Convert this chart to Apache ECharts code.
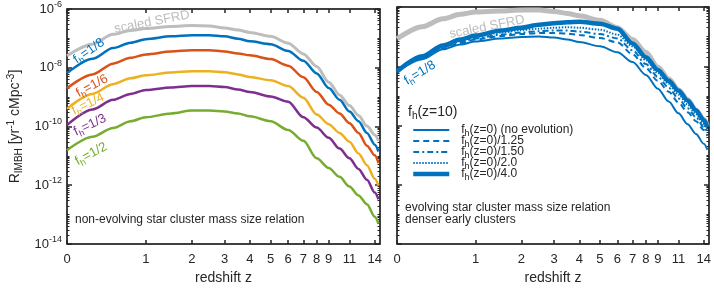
<!DOCTYPE html>
<html><head><meta charset="utf-8">
<script src="https://cdn.jsdelivr.net/npm/echarts@6/dist/echarts.min.js"></script>
<style>html,body{margin:0;padding:0;background:#fff}#c{width:714px;height:290px}</style>
</head><body><div id="c"></div>
<script>
// ---------- data ----------
const redshift = [0,0.25,0.5,0.75,1,1.5,2,2.5,3,3.5,4,5,6,7,8,9,10,11,12,13,14,14.5];
const xTickZ = [0,1,2,3,4,5,6,7,8,9,11,14];
const yTickExp = [-14,-12,-10,-8,-6];

// left panel: non-evolving
const sfrdLeft = [2.54e-8,6.37e-8,1.37e-7,1.86e-7,2.17e-7,2.52e-7,2.72e-7,2.66e-7,2.25e-7,1.93e-7,1.60e-7,1.17e-7,6.87e-8,2.96e-8,1.10e-8,3.22e-9,1.19e-9,5.14e-10,2.39e-10,1.03e-10,5.18e-11,3.27e-11];
const fh8 = [6.56e-9,2.02e-8,4.69e-8,7.14e-8,9.33e-8,1.17e-7,1.27e-7,1.27e-7,1.17e-7,9.71e-8,8.02e-8,6.37e-8,3.72e-8,1.73e-8,6.41e-9,2.04e-9,8.13e-10,3.25e-10,1.51e-10,6.04e-11,2.41e-11,1.41e-11];
const fh6 = [1.99e-9,5.94e-9,1.38e-8,2.18e-8,2.85e-8,3.59e-8,3.94e-8,3.94e-8,3.59e-8,3.08e-8,2.64e-8,1.98e-8,1.18e-8,4.72e-9,1.50e-9,5.55e-10,2.79e-10,1.30e-10,6.04e-11,2.23e-11,1.04e-11,5.64e-12];
const fh4 = [3.99e-10,1.29e-9,2.77e-9,4.38e-9,5.51e-9,6.93e-9,7.66e-9,7.66e-9,7.08e-9,5.94e-9,4.83e-9,3.76e-9,2.37e-9,9.48e-10,2.58e-10,1.20e-10,6.04e-11,3.03e-11,1.21e-11,4.83e-12,1.66e-12,9.70e-13];
const fh3 = [1.11e-10,3.79e-10,8.13e-10,1.29e-9,1.75e-9,2.12e-9,2.38e-9,2.38e-9,2.20e-9,1.82e-9,1.50e-9,1.05e-9,6.98e-10,2.05e-10,9.18e-11,4.12e-11,1.77e-11,8.26e-12,3.56e-12,1.53e-12,5.68e-13,3.32e-13];
const fh2 = [1.56e-11,4.45e-11,8.85e-11,1.51e-10,2.05e-10,2.79e-10,3.51e-10,3.51e-10,3.25e-10,2.79e-10,2.22e-10,1.51e-10,7.59e-11,3.27e-11,8.26e-12,3.85e-12,1.93e-12,8.98e-13,4.51e-13,2.26e-13,8.39e-14,4.91e-14];

// right panel: evolving
const sfrdRight = [8.45e-8,2.17e-7,3.99e-7,5.64e-7,6.82e-7,7.36e-7,7.95e-7,7.95e-7,7.08e-7,6.08e-7,5.02e-7,3.56e-7,2.00e-7,8.02e-8,2.96e-8,9.40e-9,3.76e-9,1.62e-9,7.53e-10,3.25e-10,1.63e-10,9.55e-11];
const noEvolution = [6.56e-9,1.73e-8,3.72e-8,5.47e-8,6.87e-8,8.65e-8,9.71e-8,1.01e-7,9.33e-8,8.02e-8,6.62e-8,4.69e-8,2.96e-8,1.38e-8,5.11e-9,1.75e-9,6.47e-10,2.58e-10,1.11e-10,5.18e-11,2.41e-11,1.52e-11];
const div125 = [6.56e-9,1.80e-8,4.02e-8,6.12e-8,8.02e-8,1.05e-7,1.22e-7,1.32e-7,1.32e-7,1.27e-7,1.13e-7,8.98e-8,6.37e-8,2.54e-8,8.71e-9,3.22e-9,1.39e-9,5.98e-10,2.79e-10,1.40e-10,7.03e-11,4.45e-11];
const div150 = [6.56e-9,1.87e-8,4.35e-8,6.62e-8,8.65e-8,1.17e-7,1.37e-7,1.53e-7,1.60e-7,1.60e-7,1.48e-7,1.22e-7,8.65e-8,3.45e-8,1.18e-8,4.38e-9,1.89e-9,8.13e-10,3.79e-10,1.90e-10,8.85e-11,5.60e-11];
const div20 = [6.56e-9,2.02e-8,4.69e-8,7.41e-8,9.71e-8,1.37e-7,1.66e-7,1.86e-7,2.00e-7,2.08e-7,2.00e-7,1.72e-7,1.17e-7,4.69e-8,1.61e-8,5.94e-9,2.56e-9,1.10e-9,5.14e-10,2.39e-10,1.11e-10,7.03e-11];
const div40 = [6.56e-9,2.18e-8,5.06e-8,8.02e-8,1.09e-7,1.60e-7,2.00e-7,2.52e-7,2.83e-7,3.05e-7,3.18e-7,2.72e-7,1.86e-7,5.90e-8,2.02e-8,7.48e-9,3.22e-9,1.50e-9,6.98e-10,3.25e-10,1.51e-10,8.85e-11];

// ---------- chart ----------
const FONT = '"Liberation Sans", Arial, Helvetica, sans-serif';
const INK = '#262626';
const BLUE = '#0072BD', ORANGE = '#D95319', YELLOW = '#EDB120', PURPLE = '#7E2F8E', GREEN = '#77AC30', GREY = '#BDBDBD';
const xOf = z => Math.log10(1 + z);           // axis coordinate: log10(1+z)
const X_MAX = 1.196;
const xTicks = xTickZ.map(xOf);
const minorY = [];
for (let n = -14; n < -6; n++) for (let k = 1; k <= 9; k++) {
  if (k === 1 && n % 2 === 0) continue;
  minorY.push(n + Math.log10(k));
}
const pts = arr => redshift.map((z, i) => [xOf(z), arr[i]]);

const grids = [
  {left: 67, top: 7, width: 313, height: 241, show: true, borderColor: INK, borderWidth: 1},
  {left: 397, top: 7, width: 313, height: 241, show: true, borderColor: INK, borderWidth: 1}
];
const axLine = {show: true, lineStyle: {color: INK, width: 1.5}};
const xAxes = [], yAxes = [];
[0, 1].forEach(g => {
  xAxes.push({
    gridIndex: g, type: 'value', min: 0, max: X_MAX, position: 'bottom',
    axisLine: axLine,
    axisTick: {inside: true, length: 4, customValues: xTicks, lineStyle: {color: INK, width: 1.5}},
    axisLabel: {customValues: xTicks, formatter: v => String(Math.round(Math.pow(10, v) - 1)),
      color: INK, fontSize: 13, fontFamily: FONT, margin: 9},
    splitLine: {show: false},
    name: 'redshift z', nameLocation: 'middle', nameGap: 27,
    nameTextStyle: {fontSize: 14, color: INK, fontFamily: FONT}
  });
  xAxes.push({
    gridIndex: g, type: 'value', min: 0, max: X_MAX, position: 'top',
    axisLine: axLine,
    axisTick: {inside: true, length: 4, customValues: xTicks, lineStyle: {color: INK, width: 1.5}},
    axisLabel: {show: false}, splitLine: {show: false}
  });
  ['left', 'right'].forEach(side => {
    yAxes.push({
      gridIndex: g, type: 'log', logBase: 10, min: 1e-14, max: 1e-6, interval: 2, position: side,
      axisLine: axLine,
      axisTick: {inside: true, length: 5, lineStyle: {color: INK, width: 1.5}},
      axisLabel: {
        show: g === 0 && side === 'left',
        formatter: v => '10{sup|' + Math.round(Math.log10(v)) + '}',
        color: INK, fontSize: 13, fontFamily: FONT, margin: 5,
        rich: {sup: {fontSize: 9, color: INK, fontFamily: FONT, padding: [0, 0, 9, 0]}}
      },
      splitLine: {show: false},
      minorTick: {show: false},
      name: (g === 0 && side === 'left') ? 'R{sub|IMBH} [yr{sup|-1} cMpc{sup|-3}]' : '',
      nameLocation: 'middle', nameRotate: 90, nameGap: 42,
      nameTextStyle: {fontSize: 14, color: INK, fontFamily: FONT,
        rich: {sub: {fontSize: 10, color: INK, fontFamily: FONT, padding: [8, 0, 0, 0]},
               sup: {fontSize: 10, color: INK, fontFamily: FONT, padding: [0, 0, 9, 0]}}}
    });
    yAxes.push({
      gridIndex: g, type: 'value', min: -14, max: -6, position: side,
      axisLine: {show: false},
      axisTick: {inside: true, length: 2.5, customValues: minorY, lineStyle: {color: INK, width: 1}},
      axisLabel: {show: false}, splitLine: {show: false}
    });
  });
});

const line = (name, data, color, width, xi, yi, type) => ({
  name, type: 'line', data: pts(data), xAxisIndex: xi, yAxisIndex: yi,
  showSymbol: false, symbol: 'none', smooth: 0.3, smoothMonotone: 'x',
  lineStyle: {color, width, type: type || 'solid'}, itemStyle: {color}, z: 3
});

const series = [
  line('scaled SFRD (left)', sfrdLeft, GREY, 3, 0, 0),
  line('fh=1/8', fh8, BLUE, 2.5, 0, 0),
  line('fh=1/6', fh6, ORANGE, 2.5, 0, 0),
  line('fh=1/4', fh4, YELLOW, 2.5, 0, 0),
  line('fh=1/3', fh3, PURPLE, 2.5, 0, 0),
  line('fh=1/2', fh2, GREEN, 2.5, 0, 0),
  line('scaled SFRD (right)', sfrdRight, GREY, 5, 2, 4),
  line('fh(z=0) (no evolution)', noEvolution, BLUE, 2, 2, 4),
  line('fh(z=0)/1.25', div125, BLUE, 2, 2, 4, [6, 4]),
  line('fh(z=0)/1.50', div150, BLUE, 2, 2, 4, [6, 3, 2, 3]),
  line('fh(z=0)/2.0', div20, BLUE, 2, 2, 4, [1.5, 1.5]),
  line('fh(z=0)/4.0', div40, BLUE, 4.5, 2, 4)
];

const subRich = (size, color) => ({
  sub: {fontSize: size, color, fontFamily: FONT, padding: [8, 0, 0, 0]}
});
const label = (text, x, y, rot, color, size) => ({
  type: 'text', x, y, rotation: rot, silent: true, z: 10,
  style: {text, fill: color, fontSize: size || 13, fontFamily: FONT,
    align: 'center', verticalAlign: 'middle', rich: subRich(9, color)}
});

const option = {
  animation: false,
  backgroundColor: '#fff',
  grid: grids, xAxis: xAxes, yAxis: yAxes, series,
  legend: {
    data: [
      {name: 'fh(z=0) (no evolution)', lineStyle: {width: 2, type: 'solid'}},
      {name: 'fh(z=0)/1.25', lineStyle: {width: 2, type: [6, 4]}},
      {name: 'fh(z=0)/1.50', lineStyle: {width: 2, type: [6, 3, 2, 3]}},
      {name: 'fh(z=0)/2.0', lineStyle: {width: 2, type: [1.5, 1.5]}},
      {name: 'fh(z=0)/4.0', lineStyle: {width: 4.5, type: 'solid'}}
    ],
    orient: 'vertical', left: 406, top: 119, itemWidth: 36, itemHeight: 10, itemGap: -3,
    selectedMode: false,
    itemStyle: {opacity: 0},
    formatter: n => n.replace('fh', 'f{sub|h}'),
    textStyle: {fontSize: 12, color: INK, fontFamily: FONT, padding: [0, 0, 0, 7],
      rich: {sub: {fontSize: 9, color: INK, fontFamily: FONT, padding: [7, 0, 0, 0]}}}
  },
  graphic: [
    label('scaled SFRD', 152, 22, 0.19, GREY, 13),
    label('scaled SFRD', 487, 27, 0.2, GREY, 13),
    label('f{sub|h}=1/8', 89, 51, 0.6, BLUE),
    label('f{sub|h}=1/6', 92, 86, 0.5, ORANGE),
    label('f{sub|h}=1/4', 88, 104, 0.45, YELLOW),
    label('f{sub|h}=1/3', 90, 125, 0.45, PURPLE),
    label('f{sub|h}=1/2', 91, 154, 0.5, GREEN),
    label('f{sub|h}=1/8', 420, 73, 0.55, BLUE),
    {type: 'text', x: 408, y: 112, silent: true,
     style: {text: 'f{sub|h}(z=10)', fill: INK, fontSize: 14, fontFamily: FONT,
       align: 'left', verticalAlign: 'middle', rich: subRich(10, INK)}},
    {type: 'text', x: 75, y: 220, silent: true,
     style: {text: 'non-evolving star cluster mass size relation', fill: INK, fontSize: 12,
       fontFamily: FONT, align: 'left', verticalAlign: 'middle'}},
    {type: 'text', x: 405, y: 208, silent: true,
     style: {text: 'evolving star cluster mass size relation', fill: INK, fontSize: 12,
       fontFamily: FONT, align: 'left', verticalAlign: 'middle'}},
    {type: 'text', x: 405, y: 220, silent: true,
     style: {text: 'denser early clusters', fill: INK, fontSize: 12,
       fontFamily: FONT, align: 'left', verticalAlign: 'middle'}}
  ]
};
const chart = echarts.init(document.getElementById('c'), null, {renderer: 'canvas'});
chart.setOption(option);
</script></body></html>
